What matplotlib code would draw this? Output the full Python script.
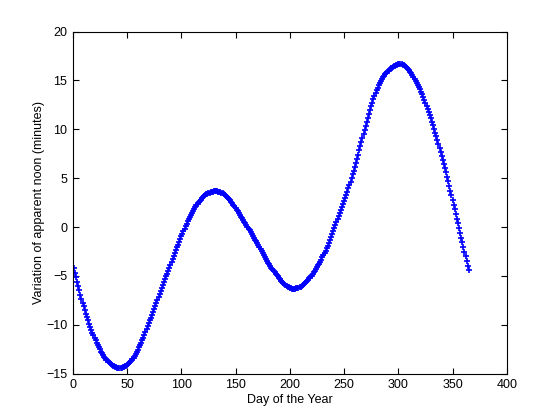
import matplotlib
matplotlib.use('Agg')
from matplotlib import pyplot as plt

plt.rcParams['font.family'] = ['Liberation Sans', 'DejaVu Sans']

# day of the year
days = list(range(1, 366))

# variation of apparent noon (minutes), one value per day
jan_feb = [-4.20, -4.68, -5.15, -5.60, -6.05, -6.48, -6.90, -7.31, -7.71, -8.10,
           -8.47, -8.84, -9.19, -9.53, -9.86, -10.18, -10.48, -10.78, -11.06, -11.33,
           -11.59, -11.84, -12.08, -12.30, -12.51, -12.72, -12.91, -13.09, -13.25, -13.41,
           -13.55, -13.69, -13.81, -13.92, -14.02, -14.10, -14.18, -14.24, -14.29, -14.33,
           -14.36, -14.38, -14.39,
           -14.38, -14.36, -14.33, -14.29, -14.24, -14.18, -14.11, -14.02, -13.91, -13.79,
           -13.66, -13.51, -13.34, -13.16, -12.97, -12.76, -12.54, -12.31, -12.07, -11.82,
           -11.56, -11.29, -11.01]
mar_may = [-10.72, -10.43, -10.14, -9.85, -9.55, -9.25, -8.95, -8.65, -8.35, -8.05,
           -7.75, -7.45, -7.15, -6.85, -6.55, -6.25, -5.95, -5.65, -5.35, -5.05,
           -4.75, -4.45, -4.15, -3.85, -3.55, -3.25, -2.95, -2.65, -2.36, -2.07,
           -1.78, -1.50,
           -1.22, -0.95, -0.68, -0.41, -0.15, 0.10, 0.35, 0.58, 0.81, 1.03,
           1.24, 1.45, 1.66, 1.85, 2.04, 2.21, 2.38, 2.53, 2.68, 2.81,
           2.94, 3.05, 3.16, 3.25, 3.34, 3.41, 3.48, 3.53, 3.58, 3.61,
           3.64, 3.65, 3.66]
may_jul = [3.66, 3.65, 3.63, 3.60, 3.56, 3.51, 3.45, 3.38, 3.30, 3.21,
           3.11, 3.00, 2.88, 2.75, 2.61, 2.46, 2.30, 2.13, 1.96, 1.78,
           1.61, 1.43, 1.26, 1.08, 0.91, 0.73, 0.56, 0.38, 0.21, 0.03,
           -0.15, -0.32, -0.50, -0.67,
           -0.87, -1.07, -1.27, -1.47, -1.67, -1.87, -2.07, -2.27, -2.47, -2.67,
           -2.87, -3.07, -3.27, -3.46, -3.65, -3.82, -3.99, -4.15, -4.31, -4.46,
           -4.61, -4.76, -4.90, -5.05, -5.20, -5.34, -5.48, -5.61, -5.73, -5.84,
           -5.94, -6.03, -6.11, -6.17, -6.22, -6.26, -6.28, -6.29, -6.29, -6.28,
           -6.26]
jul_sep = [-6.23, -6.19, -6.14, -6.08, -6.01, -5.93, -5.84, -5.74, -5.63, -5.51,
           -5.38, -5.24, -5.10, -4.95, -4.79, -4.62, -4.45, -4.28, -4.10, -3.92,
           -3.73, -3.53, -3.32, -3.10, -2.87, -2.64, -2.40, -2.15, -1.90, -1.64,
           -1.35, -1.04, -0.73, -0.42, -0.11, 0.21, 0.52, 0.83, 1.14, 1.45,
           1.76, 2.07, 2.38, 2.69, 3.00, 3.31]
sep_oct = [3.62, 3.95, 4.29, 4.64, 5.00, 5.38, 5.77, 6.17, 6.58, 7.00,
           7.42, 7.84, 8.26, 8.68, 9.09, 9.50, 9.93, 10.35, 10.77, 11.19,
           11.60, 12.00, 12.38, 12.74, 13.08, 13.40, 13.71, 14.00, 14.26, 14.50,
           14.72, 14.93, 15.12, 15.30, 15.47, 15.62, 15.76, 15.89, 16.01, 16.12,
           16.22, 16.30, 16.38, 16.45, 16.51, 16.56, 16.60, 16.63, 16.64, 16.65]
nov_dec = [16.64, 16.61, 16.56, 16.49, 16.40, 16.29, 16.16, 16.02, 15.87, 15.71,
           15.54, 15.36, 15.17, 14.97, 14.76, 14.54, 14.31, 14.07, 13.82, 13.56,
           13.29, 13.01, 12.72, 12.42, 12.11, 11.79, 11.46, 11.12, 10.77, 10.41,
           10.04, 9.66, 9.28, 8.89, 8.50, 8.10, 7.70, 7.29, 6.88, 6.46,
           6.03, 5.59, 5.14, 4.68, 4.21, 3.73, 3.25, 2.77, 2.29, 1.81,
           1.33, 0.85, 0.37, -0.11, -0.59, -1.07, -1.55, -2.03, -2.51, -2.99,
           -3.47, -3.95, -4.43]
minutes = jan_feb + mar_may + may_jul + jul_sep + sep_oct + nov_dec

fig = plt.figure(figsize=(5.6, 4.2), dpi=100)
ax = fig.add_axes([0.13, 0.11, 0.775, 0.815])

ax.plot(days, minutes, linestyle='none', marker='+', color='b', ms=4, mew=1.2)

ax.set_xlim(0, 400)
ax.set_ylim(-15, 20)
ax.set_xticks(range(0, 401, 50))
ax.set_yticks(range(-15, 21, 5))
ax.tick_params(direction='in', length=4, top=True, right=True, labelsize=9, pad=4)
ax.set_xlabel('Day of the Year', fontsize=9, labelpad=2)
ax.set_ylabel('Variation of apparent noon (minutes)', fontsize=9, labelpad=1)

fig.savefig('out.png', dpi=100)
